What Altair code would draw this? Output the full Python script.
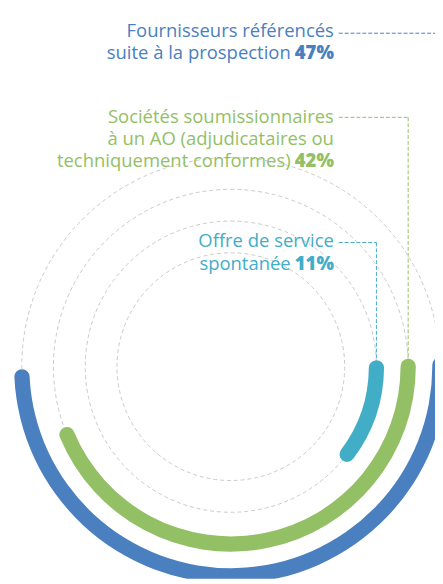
import math
import altair as alt
import pandas as pd

# ---- data -------------------------------------------------------------
series = [
    "Fournisseurs référencés suite à la prospection",
    "Sociétés soumissionnaires à un AO (adjudicataires ou techniquement conformes)",
    "Offre de service spontanée",
]
values = [47, 42, 11]          # percentages
rings = [4, 3, 2]              # ring index (1 = innermost)
colors = ["#4a80bf", "#93bf65", "#42adc7"]
grid_rings = [1, 2, 3, 4]

label_lines = [
    ["Fournisseurs référencés", "suite à la prospection"],
    ["Sociétés soumissionnaires", "à un AO (adjudicataires ou", "techniquement conformes)"],
    ["Offre de service", "spontanée"],
]
label_values = ["47%", "42%", "11%"]

# ---- layout -----------------------------------------------------------
W, H = 435, 576
CX, CY = 227, 360
R_MIN, R_MAX = 116, 213
T0 = math.pi / 2 - 0.045
SPAN = 3.87 * 100 * math.pi / 180
FONT = "Open Sans"
FS = 18.8
TEXT_RIGHT = 332
NORMAL_RIGHT = 288
LINE_H = 22.7
first_baselines = [23.7, 111.3, 238.5]
connector_y = [20.3, 106, 233.5]

radius_scale = alt.Scale(type="linear", domain=[1, 4], range=[R_MIN, R_MAX], zero=False)
theta_scale = alt.Scale(type="linear", domain=[0, 100], range=[T0, T0 + SPAN])


def ring_px(r):
    return R_MIN + (r - 1) * (R_MAX - R_MIN) / 3


grid = alt.Chart(pd.DataFrame({"ring": grid_rings})).mark_arc(
    theta=0, theta2=2 * math.pi, filled=False, stroke="#c8c8c8",
    strokeWidth=1, strokeDash=[4, 3], clip=True
).encode(
    x=alt.value(CX), y=alt.value(CY),
    radius=alt.Radius("ring:Q", scale=radius_scale, stack=None),
    radius2=alt.value(0),
)

arc_df = pd.DataFrame({"serie": series, "value": values, "ring": rings})
arcs = alt.Chart(arc_df).transform_calculate(
    start="0", r_out="datum.ring + 0.24", r_in="datum.ring - 0.24"
).mark_arc(cornerRadius=8, clip=True).encode(
    x=alt.value(CX), y=alt.value(CY),
    theta=alt.Theta("start:Q", scale=theta_scale, stack=None),
    theta2="value:Q",
    radius=alt.Radius("r_out:Q", scale=radius_scale, stack=None),
    radius2="r_in:Q",
    color=alt.Color("serie:N", scale=alt.Scale(domain=series, range=colors), legend=None),
)

layers = [grid, arcs]

one = pd.DataFrame({"k": [0]})


def text_mark(txt, x, y, color, weight):
    return alt.Chart(one).mark_text(
        font=FONT, fontSize=FS, fontWeight=weight, align="right",
        baseline="alphabetic", color=color
    ).encode(x=alt.value(x), y=alt.value(y), text=alt.value(txt))


for i, lines in enumerate(label_lines):
    col = colors[i]
    y0 = first_baselines[i]
    for j, ln in enumerate(lines):
        last = j == len(lines) - 1
        xr = NORMAL_RIGHT if last else TEXT_RIGHT
        layers.append(text_mark(ln, xr, y0 + j * LINE_H, col, 400))
    layers.append(text_mark(label_values[i], TEXT_RIGHT, y0 + (len(lines) - 1) * LINE_H, col, 800))

    xr_ring = CX + ring_px(rings[i])
    cy = connector_y[i]
    layers.append(alt.Chart(one).mark_rule(
        color=col, strokeWidth=1, strokeDash=[4, 2], clip=True
    ).encode(x=alt.value(TEXT_RIGHT + 5), x2=alt.value(xr_ring),
             y=alt.value(cy), y2=alt.value(cy)))
    layers.append(alt.Chart(one).mark_rule(
        color=col, strokeWidth=1, strokeDash=[4, 2], clip=True
    ).encode(x=alt.value(xr_ring), x2=alt.value(xr_ring),
             y=alt.value(cy), y2=alt.value(CY - 9)))

chart = alt.layer(*layers).properties(
    width=W, height=H, padding=0, autosize=alt.AutoSizeParams(type="none")
).configure_view(stroke=None)

chart.save("out.html", embed_options={"renderer": "svg", "actions": False})
